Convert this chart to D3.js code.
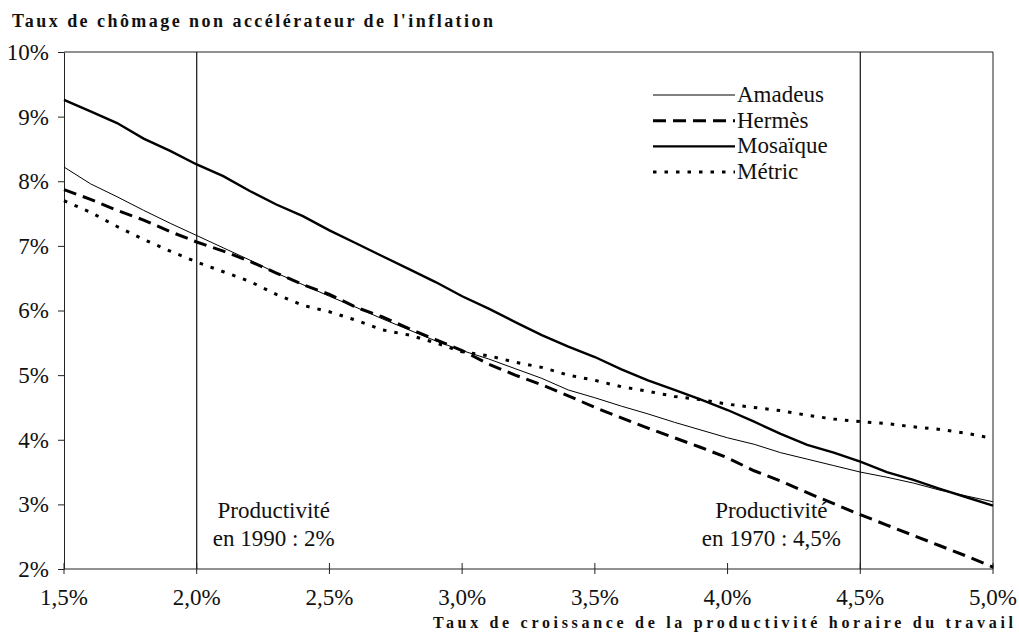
<!DOCTYPE html>
<html>
<head>
<meta charset="utf-8">
<script src="https://cdn.jsdelivr.net/npm/d3@7"></script>
<style>
  body { margin: 0; background: #fff; }
  svg { font-family: "Liberation Serif", "Times New Roman", serif; }
</style>
</head>
<body>
<main></main>
<script>
const productivite = [1.5, 1.6, 1.7, 1.8, 1.9, 2.0, 2.1, 2.2, 2.3, 2.4, 2.5, 2.6, 2.7, 2.8, 2.9, 3.0, 3.1, 3.2,
  3.3, 3.4, 3.5, 3.6, 3.7, 3.8, 3.9, 4.0, 4.1, 4.2, 4.3, 4.4, 4.5, 4.6, 4.7, 4.8, 4.9, 5.0];

const amadeus = [8.22, 7.96, 7.76, 7.55, 7.35, 7.16, 6.97, 6.78, 6.58, 6.40, 6.22, 6.05, 5.87, 5.70, 5.53, 5.38, 5.25, 5.10,
  4.95, 4.77, 4.65, 4.52, 4.40, 4.27, 4.15, 4.03, 3.93, 3.80, 3.70, 3.60, 3.50, 3.42, 3.33, 3.22, 3.13, 3.04];
const hermes = [7.87, 7.72, 7.55, 7.40, 7.22, 7.06, 6.92, 6.76, 6.58, 6.40, 6.25, 6.05, 5.90, 5.72, 5.55, 5.38, 5.17, 5.00,
  4.85, 4.68, 4.50, 4.34, 4.18, 4.03, 3.88, 3.72, 3.52, 3.36, 3.18, 3.01, 2.84, 2.68, 2.52, 2.36, 2.20, 2.03];
const mosaique = [9.26, 9.08, 8.90, 8.66, 8.47, 8.26, 8.08, 7.85, 7.64, 7.46, 7.24, 7.04, 6.84, 6.64, 6.44, 6.22, 6.03, 5.82,
  5.62, 5.44, 5.28, 5.09, 4.92, 4.77, 4.62, 4.46, 4.28, 4.09, 3.92, 3.80, 3.66, 3.50, 3.38, 3.24, 3.11, 2.98];
const metric = [7.70, 7.52, 7.30, 7.10, 6.92, 6.75, 6.60, 6.45, 6.25, 6.08, 5.98, 5.85, 5.70, 5.62, 5.50, 5.36, 5.30, 5.20,
  5.12, 5.00, 4.92, 4.82, 4.75, 4.67, 4.62, 4.55, 4.50, 4.45, 4.38, 4.32, 4.28, 4.25, 4.20, 4.16, 4.10, 4.02];

const seriesNames = ["Amadeus", "Hermès", "Mosaïque", "Métric"];
const xTicks = [1.5, 2.0, 2.5, 3.0, 3.5, 4.0, 4.5, 5.0];
const yTicks = [2, 3, 4, 5, 6, 7, 8, 9, 10];
const referenceLines = [2.0, 4.5];
const notes = [
  { x: 2.29, lines: ["Productivité", "en 1990 : 2%"] },
  { x: 4.165, lines: ["Productivité", "en 1970 : 4,5%"] }
];

const w = 1019;
const h = 637;

const svg = d3.select("main")
  .append("svg")
  .attr("width", w)
  .attr("height", h);

const x = d3.scaleLinear().domain([1.5, 5.0]).range([64, 993]);
const y = d3.scaleLinear().domain([2, 10]).range([569, 52]);

const styles = {
  "Amadeus":  { width: 1, dash: null },
  "Hermès":   { width: 3, dash: "13,7" },
  "Mosaïque": { width: 2.4, dash: null },
  "Métric":   { width: 3, dash: "3.5,8" }
};

const series = [amadeus, hermes, mosaique, metric].map((vals, i) => ({
  name: seriesNames[i],
  points: vals.map((v, j) => [productivite[j], v])
}));

const frComma = d => d.toFixed(1).replace(".", ",") + "%";

// cadre
svg.append("line")
  .attr("x1", x(1.5)).attr("x2", x(5.0))
  .attr("y1", y(10)).attr("y2", y(10))
  .attr("stroke", "#222").attr("stroke-width", 1);
svg.append("line")
  .attr("x1", x(5.0)).attr("x2", x(5.0))
  .attr("y1", y(10)).attr("y2", y(2))
  .attr("stroke", "#222").attr("stroke-width", 1);

svg.selectAll(".ref")
  .data(referenceLines)
  .enter()
  .append("line")
  .attr("class", "ref")
  .attr("x1", d => x(d)).attr("x2", d => x(d))
  .attr("y1", y(10)).attr("y2", y(2))
  .attr("stroke", "#111").attr("stroke-width", 1.2);

// axe Y
const yAxis = svg.append("g")
  .attr("transform", `translate(${x(1.5)},0)`)
  .call(d3.axisLeft(y).tickValues(yTicks).tickSizeInner(6).tickSizeOuter(0).tickPadding(9)
    .tickFormat(d => d + "%"));
yAxis.select(".domain").attr("stroke", "#222");
yAxis.selectAll(".tick line").attr("stroke", "#222");
yAxis.selectAll("text")
  .style("font-family", "'Liberation Serif', 'Times New Roman', serif")
  .style("font-size", "23px")
  .attr("fill", "#111");

// axe X
svg.append("line")
  .attr("x1", x(1.5)).attr("x2", x(5.0))
  .attr("y1", y(2)).attr("y2", y(2))
  .attr("stroke", "#222").attr("stroke-width", 1);

svg.selectAll(".xtick")
  .data(xTicks)
  .enter()
  .append("line")
  .attr("class", "xtick")
  .attr("x1", d => x(d)).attr("x2", d => x(d))
  .attr("y1", y(2) - 6).attr("y2", y(2) + 5)
  .attr("stroke", "#222");

svg.selectAll(".xlabel")
  .data(xTicks)
  .enter()
  .append("text")
  .attr("class", "xlabel")
  .attr("x", d => x(d))
  .attr("y", 605)
  .attr("text-anchor", "middle")
  .style("font-size", "23px")
  .attr("fill", "#111")
  .text(frComma);

// séries
const line = d3.line().x(d => x(d[0])).y(d => y(d[1]));

svg.selectAll(".serie")
  .data(series)
  .enter()
  .append("path")
  .attr("class", "serie")
  .attr("d", d => line(d.points))
  .attr("fill", "none")
  .attr("stroke", "#000")
  .attr("stroke-width", d => styles[d.name].width)
  .attr("stroke-dasharray", d => styles[d.name].dash);

// légende
const legend = svg.append("g");
const legendY = d3.scalePoint().domain(seriesNames).range([95, 172]);

legend.selectAll("line")
  .data(seriesNames)
  .enter()
  .append("line")
  .attr("x1", 653).attr("x2", 735)
  .attr("y1", d => legendY(d)).attr("y2", d => legendY(d))
  .attr("stroke", "#000")
  .attr("stroke-width", d => styles[d].width)
  .attr("stroke-dasharray", d => styles[d].dash);

legend.selectAll("text")
  .data(seriesNames)
  .enter()
  .append("text")
  .attr("x", 737)
  .attr("y", d => legendY(d) + 7)
  .style("font-size", "23px")
  .attr("fill", "#111")
  .text(d => d);

// annotations
notes.forEach(n => {
  svg.append("text")
    .attr("x", x(n.x))
    .attr("y", 518)
    .attr("text-anchor", "middle")
    .style("font-size", "23px")
    .attr("fill", "#111")
    .selectAll("tspan")
    .data(n.lines)
    .enter()
    .append("tspan")
    .attr("x", x(n.x))
    .attr("dy", (d, i) => i === 0 ? 0 : 28)
    .text(d => d);
});

// titres
svg.append("text")
  .attr("x", 12)
  .attr("y", 27)
  .attr("textLength", 481)
  .attr("lengthAdjust", "spacing")
  .style("font-size", "18px")
  .style("font-weight", "bold")
  .attr("fill", "#111")
  .text("Taux de chômage non accélérateur de l'inflation");

svg.append("text")
  .attr("x", 433)
  .attr("y", 628)
  .attr("textLength", 580)
  .attr("lengthAdjust", "spacing")
  .style("font-size", "16px")
  .style("font-weight", "bold")
  .attr("fill", "#111")
  .text("Taux de croissance de la productivité horaire du travail");
</script>
</body>
</html>
